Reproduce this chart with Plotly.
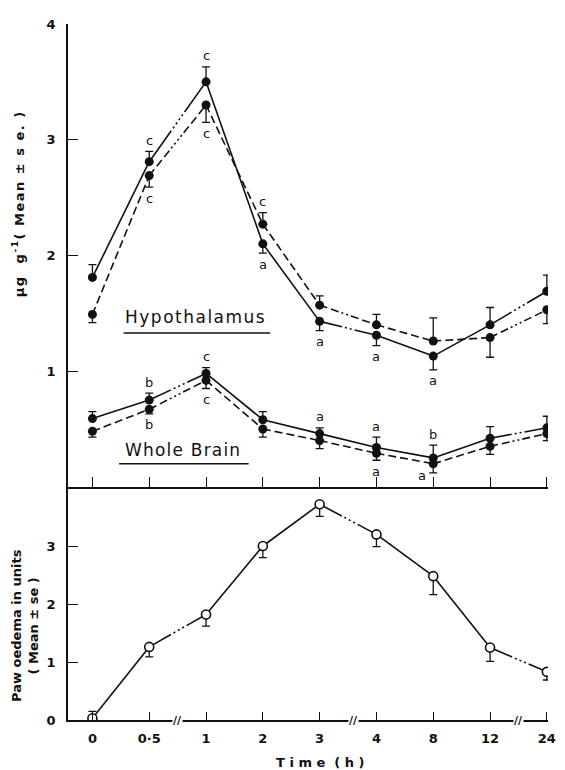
import math
import plotly.graph_objects as go

# ---------------- data ----------------
times = ["0", "0·5", "1", "2", "3", "4", "8", "12", "24"]

hyp_solid = [1.81, 2.81, 3.50, 2.10, 1.43, 1.31, 1.13, 1.40, 1.69]
hyp_solid_up = [0.11, 0.09, 0.13, 0, 0, 0, 0, 0.15, 0.14]
hyp_solid_dn = [0, 0, 0, 0.08, 0.08, 0.09, 0.12, 0, 0]
hyp_solid_sig = ["", "c", "c", "a", "a", "a", "a", "", ""]

hyp_dash = [1.49, 2.69, 3.30, 2.27, 1.57, 1.40, 1.26, 1.29, 1.53]
hyp_dash_up = [0, 0, 0, 0.10, 0.08, 0.09, 0.20, 0, 0]
hyp_dash_dn = [0.07, 0.10, 0.15, 0, 0, 0, 0, 0.17, 0.12]
hyp_dash_sig = ["", "c", "c", "c", "", "", "", "", ""]

wb_solid = [0.59, 0.75, 0.98, 0.58, 0.46, 0.34, 0.25, 0.42, 0.51]
wb_solid_up = [0.06, 0.06, 0.05, 0.07, 0.05, 0.09, 0.11, 0.10, 0.10]
wb_solid_dn = [0, 0, 0, 0, 0, 0, 0, 0, 0]
wb_solid_sig = ["", "b", "c", "", "a", "a", "b", "", ""]

wb_dash = [0.48, 0.67, 0.92, 0.50, 0.40, 0.29, 0.20, 0.35, 0.46]
wb_dash_up = [0, 0, 0, 0, 0, 0, 0, 0, 0]
wb_dash_dn = [0.05, 0.04, 0.07, 0.07, 0.07, 0.06, 0.08, 0.07, 0.06]
wb_dash_sig = ["", "b", "c", "", "", "a", "a", "", ""]

paw = [0.03, 1.26, 1.82, 3.00, 3.72, 3.20, 2.48, 1.25, 0.83]
paw_up = [0.12, 0, 0, 0, 0, 0, 0, 0, 0]
paw_dn = [0, 0.17, 0.20, 0.20, 0.21, 0.21, 0.32, 0.24, 0.14]

top_ticks = [1, 2, 3, 4]
bot_ticks = [0, 1, 2, 3]

# ---------------- geometry helpers (styling only) ----------------
OFF = 8  # default page body margin
W, H = 565 - OFF, 770 - OFF
ML, MR, MT, MB = 68 - OFF, 9, 22 - OFF, 50
XR = [-0.43, 8.02]
TOP_DOM = [0.335, 1.0]
BOT_DOM = [0.0, 0.335]
TOP_YR = [0, 4]
BOT_YR = [0, 4.02]
plot_w = W - ML - MR
plot_h = H - MT - MB
px_x = plot_w / (XR[1] - XR[0])
px_top = plot_h * (TOP_DOM[1] - TOP_DOM[0]) / (TOP_YR[1] - TOP_YR[0])
px_bot = plot_h * (BOT_DOM[1] - BOT_DOM[0]) / (BOT_YR[1] - BOT_YR[0])


def paper_x(sx):
    return (sx - OFF - ML) / plot_w


def paper_y(sy):
    return (H - MB - (sy - OFF)) / plot_h


LW = 1.6
BLACK = "#111111"


def seg_dash(L, ends):
    a = 0.38 * L
    pairs = []
    if ends == "solid":
        pairs.append((int(round(a)), 3))
    else:
        n = max(int(round(a / 12)), 1)
        pairs += [(8, 4)] * (n - 1) + [(8, 3)]
    nd = max(int((L - 2 * a) // 5), 1)
    pairs += [(2, 3)] * nd
    if ends == "solid":
        pairs.append((int(L) + 20, 1))
    else:
        pairs += [(8, 4)] * (int(L // 12) + 2)
    flat = []
    for on, off in pairs:
        flat += [f"{max(on,1)}px", f"{max(off,1)}px"]
    return ",".join(flat)


fig = go.Figure()


def add_series(vals, up, dn, style, breaks, xa, ya, ppu, marker):
    xs = list(range(len(vals)))
    for i in range(len(vals) - 1):
        if (i, i + 1) in breaks:
            L = math.hypot(px_x, (vals[i + 1] - vals[i]) * ppu)
            dash = seg_dash(L, style)
        else:
            dash = "solid" if style == "solid" else "8px,4px"
        fig.add_trace(go.Scatter(
            x=[xs[i], xs[i + 1]], y=[vals[i], vals[i + 1]], mode="lines",
            line=dict(color=BLACK, width=LW, dash=dash),
            xaxis=xa, yaxis=ya, showlegend=False, hoverinfo="skip"))
    fig.add_trace(go.Scatter(
        x=xs, y=vals, mode="markers", marker=marker,
        error_y=dict(type="data", symmetric=False, array=up, arrayminus=dn,
                     color=BLACK, thickness=1.3, width=4),
        xaxis=xa, yaxis=ya, showlegend=False))


filled = dict(size=9, color=BLACK, line=dict(width=0))
hollow = dict(size=9, color="white", line=dict(width=1.6, color=BLACK))
B3 = [(1, 2), (4, 5), (7, 8)]
B2 = [(1, 2), (7, 8)]

add_series(hyp_solid, hyp_solid_up, hyp_solid_dn, "solid", B3, "x", "y", px_top, filled)
add_series(hyp_dash, hyp_dash_up, hyp_dash_dn, "dash", B3, "x", "y", px_top, filled)
add_series(wb_solid, wb_solid_up, wb_solid_dn, "solid", B2, "x", "y", px_top, filled)
add_series(wb_dash, wb_dash_up, wb_dash_dn, "dash", B2, "x", "y", px_top, filled)
add_series(paw, paw_up, paw_dn, "solid", B3, "x2", "y2", px_bot, hollow)

# significance letters
annots = []
SIGF = dict(family="DejaVu Sans", size=13, color=BLACK)
for vals, up, dn, sig in [(hyp_solid, hyp_solid_up, hyp_solid_dn, hyp_solid_sig),
                          (hyp_dash, hyp_dash_up, hyp_dash_dn, hyp_dash_sig),
                          (wb_solid, wb_solid_up, wb_solid_dn, wb_solid_sig),
                          (wb_dash, wb_dash_up, wb_dash_dn, wb_dash_sig)]:
    for i, s in enumerate(sig):
        if not s:
            continue
        if up[i] > 0:
            yv, ysh, xsh = vals[i] + up[i], 11, 0
        else:
            yv, ysh, xsh = vals[i] - dn[i], -11, 0
        if vals is wb_dash and i == 6:
            xsh, ysh = -11, -3
        annots.append(dict(x=i, y=yv, xref="x", yref="y", text=s, showarrow=False,
                           yshift=ysh, xshift=xsh, font=SIGF))

LBLF = dict(family="DejaVu Sans", size=17, color=BLACK)
annots.append(dict(x=1.82, y=1.47, xref="x", yref="y",
                   text='<span style="letter-spacing:1.5px">Hypothalamus</span>',
                   showarrow=False, font=LBLF))
annots.append(dict(x=1.6, y=0.32, xref="x", yref="y",
                   text='<span style="letter-spacing:1.2px">Whole Brain</span>',
                   showarrow=False, font=LBLF))

# axis titles
TF = dict(family="DejaVu Sans", size=13, color=BLACK, weight="bold")
annots.append(dict(x=paper_x(18), y=paper_y(202), xref="paper", yref="paper",
                   xanchor="center", yanchor="middle",
                   text='<span style="letter-spacing:1.5px">μg  g<sup>-1</sup>( Mean ± s e. )</span>',
                   textangle=-90, showarrow=False, font=TF))
annots.append(dict(x=paper_x(25), y=paper_y(625), xref="paper", yref="paper",
                   xanchor="center", yanchor="middle",
                   text="Paw oedema in units<br>( Mean ± se )", textangle=-90, showarrow=False,
                   font=TF))
annots.append(dict(x=paper_x(325), y=paper_y(763), xref="paper", yref="paper",
                   xanchor="center", yanchor="middle",
                   text="T i m e  ( h )", showarrow=False, font=TF))

# axis break marks
for bx in [1.5, 4.6, 7.5]:
    annots.append(dict(x=bx, y=0, xref="x2", yref="y2", text="<b>//</b>", showarrow=False,
                       bgcolor="white", borderpad=0,
                       font=dict(family="DejaVu Sans", size=11, color=BLACK)))

shapes = [
    dict(type="line", xref="x", yref="y", x0=0.55, x1=3.13, y0=1.33, y1=1.33,
         line=dict(color=BLACK, width=1.6)),
    dict(type="line", xref="x", yref="y", x0=0.47, x1=2.75, y0=0.2, y1=0.2,
         line=dict(color=BLACK, width=1.6)),
]

TICKF = dict(family="DejaVu Sans", size=13, color=BLACK, weight="bold")
ax_common = dict(showgrid=False, zeroline=False, showline=True, linecolor=BLACK, linewidth=1.6,
                 ticks="inside", tickcolor=BLACK, tickwidth=1.3, mirror=False)

fig.update_layout(
    width=W, height=H, margin=dict(l=ML, r=MR, t=MT, b=MB),
    paper_bgcolor="white", plot_bgcolor="white",
    xaxis=dict(domain=[0, 1], range=XR, anchor="y", tickvals=list(range(len(times))),
               showticklabels=False, ticklen=10, **ax_common),
    yaxis=dict(domain=TOP_DOM, range=TOP_YR, anchor="x", tickvals=top_ticks,
               ticktext=[str(t) for t in top_ticks], ticklen=10, tickfont=TICKF,
               ticklabelstandoff=8, **ax_common),
    xaxis2=dict(domain=[0, 1], range=XR, anchor="y2", tickvals=list(range(len(times))),
                ticktext=times, ticklen=8, tickfont=TICKF, ticklabelstandoff=6,
                ticklabeloverflow="allow", **ax_common),
    yaxis2=dict(domain=BOT_DOM, range=BOT_YR, anchor="x2", tickvals=bot_ticks,
                ticktext=[str(t) for t in bot_ticks], ticklen=10, tickfont=TICKF,
                ticklabelstandoff=8, **ax_common),
    annotations=annots, shapes=shapes,
)

fig.write_html("out.html")
